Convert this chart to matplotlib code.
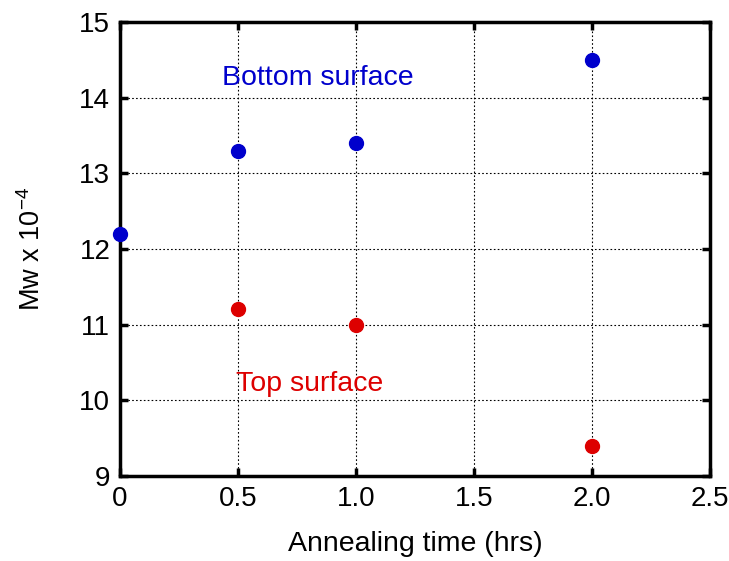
import numpy as np
import matplotlib
matplotlib.use('Agg')
import matplotlib.pyplot as plt

plt.rcParams['font.family'] = ['Liberation Sans', 'DejaVu Sans']

# data
bottom_time = [0, 0.5, 1.0, 2.0]
bottom_mw = [12.2, 13.3, 13.4, 14.5]
top_time = [0.5, 1.0, 2.0]
top_mw = [11.2, 11.0, 9.4]

x_ticks = [0, 0.5, 1.0, 1.5, 2.0, 2.5]
x_labels = ['0', '0.5', '1.0', '1.5', '2.0', '2.5']
y_ticks = [9, 10, 11, 12, 13, 14, 15]

blue = '#0000cc'
red = '#dd0000'

fig = plt.figure(figsize=(7.29, 5.61), dpi=100)
ax = fig.add_axes([0.1646, 0.1515, 0.8094, 0.8095])

ax.plot(bottom_time, bottom_mw, 'o', color=blue, markersize=10, clip_on=False, zorder=5)
ax.plot(top_time, top_mw, 'o', color=red, markersize=10, clip_on=False, zorder=5)

ax.text(0.84, 14.26, 'Bottom surface', color=blue, fontsize=20.5, ha='center', va='center')
ax.text(0.805, 10.22, 'Top surface', color=red, fontsize=20.5, ha='center', va='center')

ax.set_xlim(0, 2.5)
ax.set_ylim(9, 15)
ax.set_xticks(x_ticks)
ax.set_xticklabels(x_labels)
ax.set_yticks(y_ticks)

ax.grid(True, color='black', linestyle=(0, (1.5, 2)), linewidth=0.8)
for s in ax.spines.values():
    s.set_linewidth(2.5)
ax.tick_params(direction='in', length=6, width=2.5, top=True, right=True,
               labelsize=20, pad=7)

ax.set_xlabel('Annealing time (hrs)', fontsize=20.5, labelpad=14)
ax.set_ylabel(r'Mw x 10$^{\mathregular{-4}}$', fontsize=19.5, labelpad=24)

fig.savefig('out.png', dpi=100)
